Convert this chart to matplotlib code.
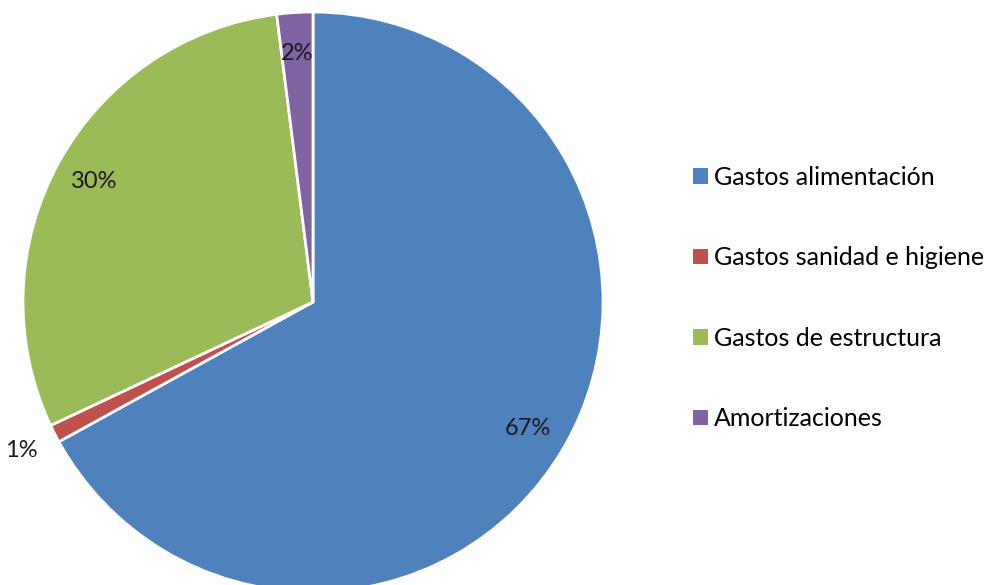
import numpy as np
import matplotlib
matplotlib.use("Agg")
import matplotlib.pyplot as plt
from matplotlib.patches import Patch

categories = ["Gastos alimentación", "Gastos sanidad e higiene", "Gastos de estructura", "Amortizaciones"]
values = [67, 1, 30, 2]
colors = ["#4F81BD", "#C0504D", "#9BBB59", "#8064A2"]

plt.rcParams['font.family'] = ['Lato', 'DejaVu Sans']

fig = plt.figure(figsize=(9.98, 5.85), dpi=100)
ax = fig.add_axes([23/998, (585-592)/585, 580/998, 580/585])

wedges, _ = ax.pie(values, colors=colors, startangle=90, counterclock=False,
                   radius=1.0, wedgeprops=dict(edgecolor="white", linewidth=2))
ax.set_xlim(-1, 1)
ax.set_ylim(-1, 1)
ax.set_aspect('equal')
ax.axis('off')

total = sum(values)
for w, v in zip(wedges, values):
    mid = np.deg2rad((w.theta1 + w.theta2) / 2)
    r = 1.13 if v / total < 0.015 else 0.86
    ax.text(r * np.cos(mid), r * np.sin(mid), f"{v}%", ha="center", va="center",
            fontsize=17, color="#1a1a1a", clip_on=False)

handles = [Patch(facecolor=c, edgecolor="none") for c in colors]
fig.legend(handles, categories, loc="center left", bbox_to_anchor=(670/998, 1 - 298/585),
           frameon=False, fontsize=18, handlelength=0.6, handleheight=0.6,
           handletextpad=0.25, labelspacing=2.3)

fig.savefig("out.png", dpi=100)
